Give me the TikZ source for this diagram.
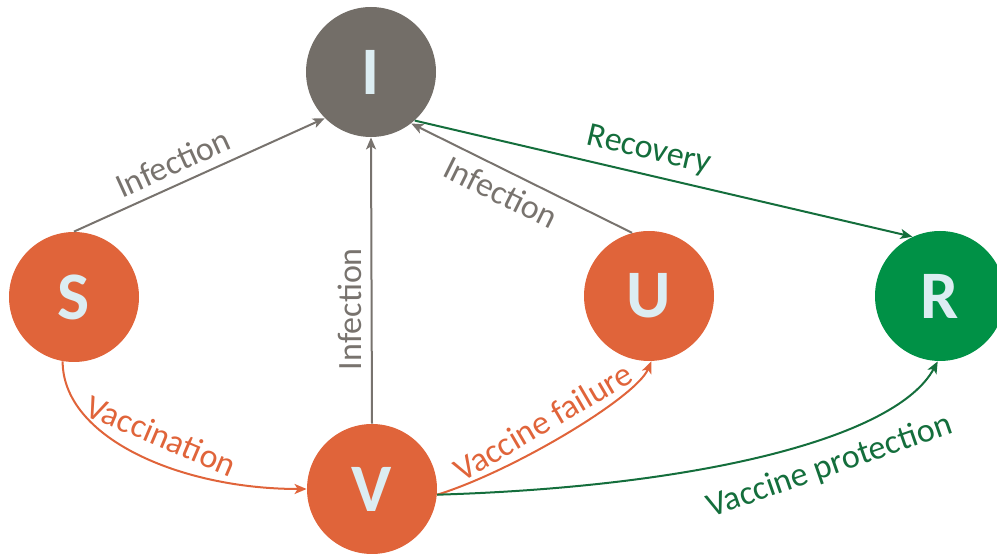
\documentclass[tikz,border=0pt]{standalone}
\usepackage{fontspec}
\setmainfont{Carlito}
\usetikzlibrary{arrows.meta}
\tikzset{state/.style={circle,minimum size=65pt,inner sep=0pt,text=lettr,font=\fontsize{34}{34}\selectfont\bfseries}}

\begin{document}
\begin{tikzpicture}[
            x=0.5pt,y=0.5pt,
            >={Stealth[length=6pt,width=5pt,inset=1.5pt]},
            arrow/.style={line width=1pt,->},
            lbl/.style={sloped,inner sep=4.5pt,font=\fontsize{17}{17}\selectfont}
        ]
            \definecolor{lettr}{RGB}{220,237,242}
            \definecolor{igray}{RGB}{115,110,104}
            \definecolor{lgray}{RGB}{120,115,110}
            \definecolor{orng}{RGB}{224,100,58}
            \definecolor{rgreen}{RGB}{0,145,70}
            \definecolor{dgreen}{RGB}{20,110,60}
            \useasboundingbox (0,0) rectangle (997,557);
            % compartments
            \node [state,fill=igray] (I) at (371,485) {I};
            \node [state,fill=orng] (S) at (74,260) {S};
            \node [state,fill=orng] (U) at (649,261) {U};
            \node [state,fill=rgreen] (R) at (940,261) {R};
            \node [state,fill=orng] (V) at (372,68) {V};
            % infection
            \draw [arrow,lgray] (S.north) -- node [lbl,above,pos=0.43] {Infection} (I.225);
            \draw [arrow,lgray] (V.north) -- node [lbl,sloped=false,rotate=90,anchor=south,pos=0.4] {Infection} (I.south);
            \draw [arrow,lgray,<-] (I.-52) -- node [lbl,below,pos=0.45] {Infection} (U.105);
            % recovery
            \draw [arrow,dgreen] (I.-48) -- node [lbl,above,pos=0.46] {Recovery} (R.115);
            % vaccination
            \draw [arrow,orng] (S.-100) .. controls +(0,-76) and +(-127,0) .. node [lbl,above,pos=0.55,inner sep=7pt] {Vaccination} (V.west);
            \draw [arrow,orng] (V.-5) .. controls +(75,23) and +(-15,-36) .. node [lbl,above,pos=0.45] {Vaccine failure} (U.-88);
            \draw [arrow,dgreen] (V.-5) .. controls +(265,8) and +(-41,-76) .. node [lbl,below,pos=0.6,inner sep=7pt] {Vaccine protection} (R.-92);
        \end{tikzpicture}
\end{document}
